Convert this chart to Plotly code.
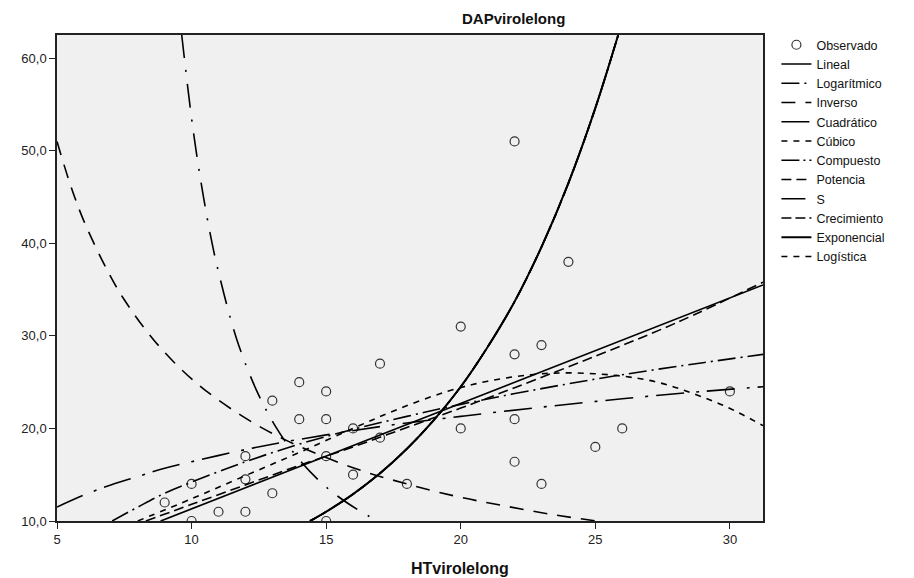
import plotly.graph_objects as go

# Observed data
ht_obs = [22, 24, 20, 22, 23, 17, 14, 15, 13, 14, 15, 16, 20, 22, 17, 26, 30, 12, 15, 25,
          22, 16, 12, 10, 18, 23, 9, 13, 11, 12, 10, 15]
dap_obs = [51, 38, 31, 28, 29, 27, 25, 24, 23, 21, 21, 20, 20, 21, 19, 20, 24, 17, 17, 18,
           16.4, 15, 14.5, 14, 14, 14, 12, 13, 11, 11, 10, 10]

# Fitted curves
lin_x = [8.85, 31.23]
lin_y = [10.0, 35.5]

log_x = [7.05, 8, 9, 10, 12, 14, 16, 18, 20, 23, 26, 29, 31.23]
log_y = [10.0, 11.5, 13.0, 14.2, 16.4, 18.3, 19.9, 21.3, 22.6, 24.3, 25.8, 27.1, 28.0]

inv_x = [5, 5.5, 6, 6.9, 7.5, 8.64, 10.1, 11.9, 13.6, 16, 18, 19.85, 21.5, 23.3, 25.05]
inv_y = [51.0, 46.3, 42.4, 36.9, 33.9, 29.4, 25.1, 21.3, 18.6, 15.75, 14.0, 12.65, 11.7, 10.75, 10.0]

quad_x = [5, 6, 7, 8, 9, 10, 11.5, 13, 15, 17, 20, 23, 26, 29, 31.23]
quad_y = [11.5, 12.8, 13.9, 14.8, 15.7, 16.4, 17.4, 18.3, 19.3, 20.2, 21.3, 22.3, 23.2, 24.0, 24.5]

cub_x = [8, 10, 12, 14, 16, 17.6, 19.5, 21, 22.6, 24, 25.85, 27.3, 28.6, 29.9, 31.23]
cub_y = [10.0, 12.4, 14.9, 17.4, 20.0, 22.0, 24.0, 25.1, 25.8, 26.0, 25.7, 25.0, 23.8, 22.3, 20.3]

pow_x = [8.3, 10, 12, 14, 16, 18, 20, 22, 25, 28, 31.23]
pow_y = [10.0, 11.8, 13.9, 16.0, 18.0, 20.1, 22.2, 24.4, 27.8, 31.4, 35.8]

s_x = [9.63, 10, 10.3, 10.68, 11, 11.67, 12.4, 13.1, 13.84, 14.83, 15.76, 16.9]
s_y = [62.6, 53.5, 47.5, 41.2, 36.9, 29.7, 24.2, 20.3, 17.2, 14.1, 12.0, 10.0]

exp_x = [14.4, 15, 16, 17, 18, 19, 20, 21, 22, 23, 24, 25, 25.85]
exp_y = [10.0, 11.0, 12.9, 15.15, 17.8, 20.9, 24.5, 28.8, 33.7, 39.6, 46.5, 54.6, 62.5]

x_ticks = [5, 10, 15, 20, 25, 30]
x_ticktext = ["5", "10", "15", "20", "25", "30"]
y_ticks = [10, 20, 30, 40, 50, 60]
y_ticktext = ["10,0", "20,0", "30,0", "40,0", "50,0", "60,0"]

fig = go.Figure()

fig.add_trace(go.Scatter(
    x=ht_obs, y=dap_obs, mode="markers", name="Observado",
    marker=dict(symbol="circle-open", size=9, color="#333333", line=dict(width=1.2, color="#333333"))
))

def add_line(xs, ys, name, dash, width=1.6):
    fig.add_trace(go.Scatter(
        x=xs, y=ys, mode="lines", name=name,
        line=dict(color="black", width=width, dash=dash, shape="spline", smoothing=1.0)
    ))

add_line(lin_x, lin_y, "Lineal", "solid", 1.7)
add_line(log_x, log_y, "Logarítmico", "18px,5px,2px,5px")
add_line(inv_x, inv_y, "Inverso", "14px,10px")
add_line(quad_x, quad_y, "Cuadrático", "28px,12px,3px,8px")
add_line(cub_x, cub_y, "Cúbico", "6px,6px")
add_line(exp_x, exp_y, "Compuesto", "18px,4px,2px,4px")
add_line(pow_x, pow_y, "Potencia", "10px,5px")
add_line(s_x, s_y, "S", "24px,12px,2px,12px")
add_line(exp_x, exp_y, "Crecimiento", "10px,4px")
add_line(exp_x, exp_y, "Exponencial", "solid", 2.0)
add_line(exp_x, exp_y, "Logística", "6px,6px")

axis_font = dict(family="Liberation Sans, Arial, sans-serif", size=13, color="#222222")

fig.update_layout(
    width=914, height=578,
    margin=dict(l=49, r=159, t=27, b=65),
    paper_bgcolor="white",
    plot_bgcolor="#F0F0F0",
    showlegend=True,
    legend=dict(
        x=1.019, y=1.01, xanchor="left", yanchor="top",
        font=dict(family="Liberation Sans, Arial, sans-serif", size=12.5, color="#111111"),
        bgcolor="rgba(0,0,0,0)", itemwidth=30, tracegroupgap=0,
    ),
    xaxis=dict(
        range=[5, 31.23], tickvals=x_ticks, ticktext=x_ticktext,
        showgrid=False, zeroline=False, showline=True, linecolor="#222222", linewidth=1.5,
        mirror=True, ticks="outside", ticklen=6, tickcolor="#222222", tickfont=axis_font,
    ),
    yaxis=dict(
        range=[10, 62.5], tickvals=y_ticks, ticktext=y_ticktext,
        showgrid=False, zeroline=False, showline=True, linecolor="#222222", linewidth=1.5,
        mirror=True, ticks="outside", ticklen=6, tickcolor="#222222", tickfont=axis_font,
    ),
    annotations=[
        dict(text="<b>DAPvirolelong</b>", xref="paper", yref="paper",
             x=(513 - 57) / 706, y=1, yshift=17, xanchor="center", yanchor="middle",
             showarrow=False, font=dict(family="Liberation Sans, Arial, sans-serif", size=15, color="#111111")),
        dict(text="<b>HTvirolelong</b>", xref="paper", yref="paper",
             x=(460 - 57) / 706, y=0, yshift=-47, xanchor="center", yanchor="middle",
             showarrow=False, font=dict(family="Liberation Sans, Arial, sans-serif", size=16, color="#111111")),
    ],
)

fig.write_html("out.html")
